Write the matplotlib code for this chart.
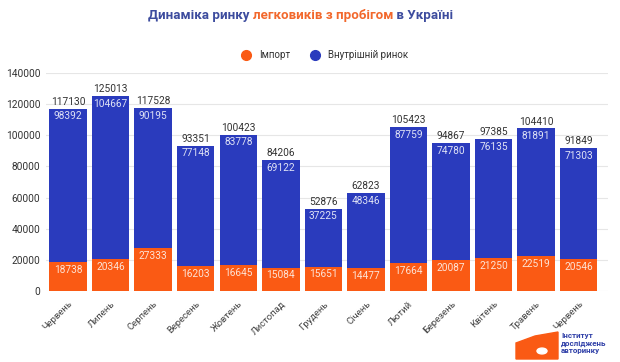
import matplotlib.pyplot as plt
import matplotlib.patches as mpatches
from matplotlib.offsetbox import HPacker, TextArea, AnchoredOffsetbox

plt.rcParams['font.family'] = ['Roboto', 'DejaVu Sans']

# data
months = ['Червень', 'Липень', 'Серпень', 'Вересень', 'Жовтень', 'Листопад', 'Грудень',
          'Січень', 'Лютий', 'Березень', 'Квітень', 'Травень', 'Червень']
imports = [18738, 20346, 27333, 16203, 16645, 15084, 15651, 14477, 17664, 20087, 21250, 22519, 20546]
domestic = [98392, 104667, 90195, 77148, 83778, 69122, 37225, 48346, 87759, 74780, 76135, 81891, 71303]
totals = [117130, 125013, 117528, 93351, 100423, 84206, 52876, 62823, 105423, 94867, 97385, 104410, 91849]
yticks = [0, 20000, 40000, 60000, 80000, 100000, 120000, 140000]

orange = '#fa5a14'
blue = '#2a3bbd'
title_blue = '#3d4c9e'
title_orange = '#f2682c'

W, H = 620, 362
fig = plt.figure(figsize=(W / 100, H / 100), dpi=100)
ax = fig.add_axes([46 / W, 1 - 291 / H, (608 - 46) / W, (291 - 73) / H])

x = list(range(len(months)))
ax.bar(x, imports, width=0.88, color=orange, zorder=2)
ax.bar(x, domestic, bottom=imports, width=0.88, color=blue, zorder=2)

for i in x:
    ax.text(i, totals[i] + 1200, str(totals[i]), ha='center', va='bottom',
            fontsize=7.3, color='#333333', zorder=3)
    ax.text(i, totals[i] - 1800, str(domestic[i]), ha='center', va='top',
            fontsize=7.3, color='#dfe2f5', zorder=3)
    ax.text(i, imports[i] - 1800, str(imports[i]), ha='center', va='top',
            fontsize=7.3, color='#fde3d6', zorder=3)

ax.set_xlim(-0.52, 12.69)
ax.set_ylim(0, 140000)
ax.set_yticks(yticks)
ax.set_yticklabels([str(t) for t in yticks], fontsize=7.3, color='#333333')
ax.set_xticks(x)
ax.set_xticklabels(months, rotation=45, ha='right', rotation_mode='anchor',
                   fontsize=6.8, color='#444444')
ax.tick_params(axis='y', length=0, pad=4)
ax.tick_params(axis='x', length=0, pad=6)
ax.grid(axis='y', color='#e6e6e6', linewidth=0.8, zorder=0)
for s in ax.spines.values():
    s.set_visible(False)

# title with two colours
parts = [TextArea('Динаміка ринку ', textprops=dict(color=title_blue, fontsize=9.6, fontweight='bold')),
         TextArea('легковиків з пробігом', textprops=dict(color=title_orange, fontsize=9.6, fontweight='bold')),
         TextArea(' в Україні', textprops=dict(color=title_blue, fontsize=9.6, fontweight='bold'))]
box = HPacker(children=parts, align='baseline', pad=0, sep=0)
fig.add_artist(AnchoredOffsetbox(loc='center', child=box, frameon=False,
                                 bbox_to_anchor=(0.485, 1 - 15 / H),
                                 bbox_transform=fig.transFigure, pad=0, borderpad=0))

# legend
h1 = plt.Line2D([], [], marker='o', linestyle='', markersize=7, color=orange)
h2 = plt.Line2D([], [], marker='o', linestyle='', markersize=7, color=blue)
fig.legend([h1, h2], ['Імпорт', 'Внутрішній ринок'], loc='center', ncol=2,
           bbox_to_anchor=(0.52, 1 - 55 / H), frameon=False, fontsize=7,
           handletextpad=0.3, columnspacing=1.6, labelcolor='#333333')

# logo
fig.patches.append(mpatches.Polygon([(516 / W, 1 - 359 / H), (516 / W, 1 - 343 / H), (535 / W, 1 - 336 / H),
                                     (558 / W, 1 - 332 / H), (558 / W, 1 - 359 / H)],
                                    closed=True, transform=fig.transFigure, color=orange))
fig.patches.append(mpatches.Circle((542 / W, 1 - 351 / H), 5 / W, transform=fig.transFigure,
                                   facecolor='white', edgecolor='white'))
fig.text(561 / W, 1 - 343 / H, 'Інститут\nдосліджень\nавторинку', ha='left', va='center',
         fontsize=5.8, fontweight='bold', color='#3040a8', linespacing=1.0)

fig.savefig('out.png', dpi=100)
